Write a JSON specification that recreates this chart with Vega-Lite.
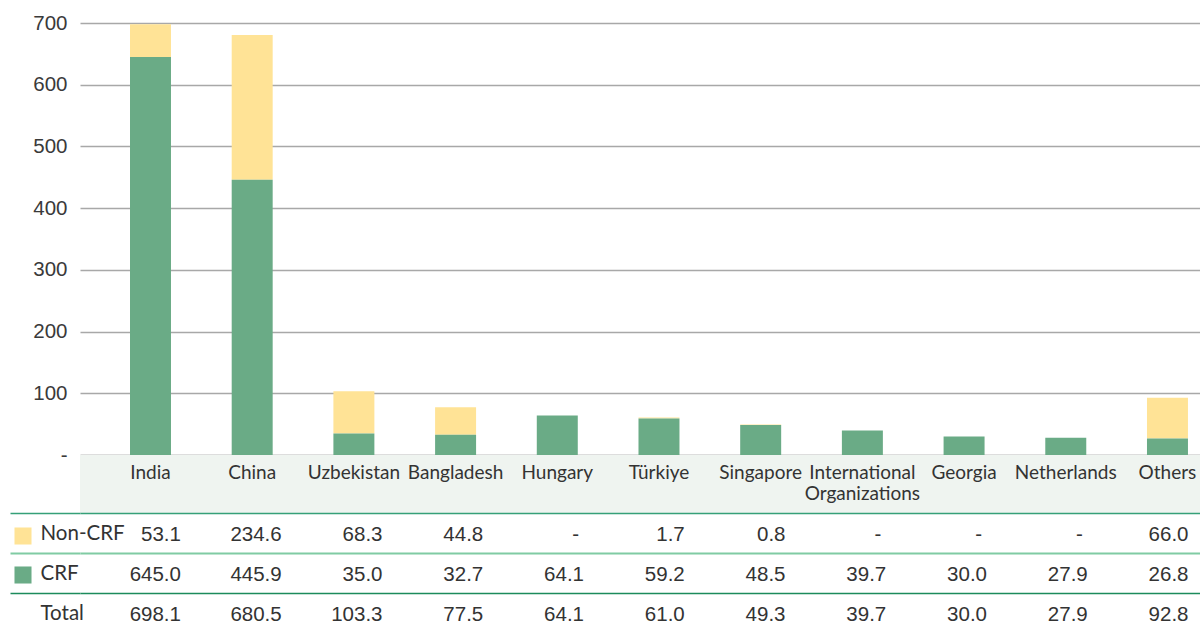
{
  "$schema": "https://vega.github.io/schema/vega-lite/v6.json",
  "padding": {"left": 0, "top": 13, "right": 0, "bottom": 0},
  "background": "white",
  "spacing": 0,
  "bounds": "flush",
  "config": {"view": {"stroke": null}, "font": "Lato", "concat": {"spacing": 0}},
  "resolve": {"scale": {"x": "independent", "y": "independent"}},
  "datasets": {
    "v": [
      {"country": "India", "type": "Non-CRF", "value": 53.1},
      {"country": "India", "type": "CRF", "value": 645.0},
      {"country": "India", "type": "Total", "value": 698.1},
      {"country": "China", "type": "Non-CRF", "value": 234.6},
      {"country": "China", "type": "CRF", "value": 445.9},
      {"country": "China", "type": "Total", "value": 680.5},
      {"country": "Uzbekistan", "type": "Non-CRF", "value": 68.3},
      {"country": "Uzbekistan", "type": "CRF", "value": 35.0},
      {"country": "Uzbekistan", "type": "Total", "value": 103.3},
      {"country": "Bangladesh", "type": "Non-CRF", "value": 44.8},
      {"country": "Bangladesh", "type": "CRF", "value": 32.7},
      {"country": "Bangladesh", "type": "Total", "value": 77.5},
      {"country": "Hungary", "type": "Non-CRF", "value": null},
      {"country": "Hungary", "type": "CRF", "value": 64.1},
      {"country": "Hungary", "type": "Total", "value": 64.1},
      {"country": "Türkiye", "type": "Non-CRF", "value": 1.7},
      {"country": "Türkiye", "type": "CRF", "value": 59.2},
      {"country": "Türkiye", "type": "Total", "value": 61.0},
      {"country": "Singapore", "type": "Non-CRF", "value": 0.8},
      {"country": "Singapore", "type": "CRF", "value": 48.5},
      {"country": "Singapore", "type": "Total", "value": 49.3},
      {"country": "International Organizations", "type": "Non-CRF", "value": null},
      {"country": "International Organizations", "type": "CRF", "value": 39.7},
      {"country": "International Organizations", "type": "Total", "value": 39.7},
      {"country": "Georgia", "type": "Non-CRF", "value": null},
      {"country": "Georgia", "type": "CRF", "value": 30.0},
      {"country": "Georgia", "type": "Total", "value": 30.0},
      {"country": "Netherlands", "type": "Non-CRF", "value": null},
      {"country": "Netherlands", "type": "CRF", "value": 27.9},
      {"country": "Netherlands", "type": "Total", "value": 27.9},
      {"country": "Others", "type": "Non-CRF", "value": 66.0},
      {"country": "Others", "type": "CRF", "value": 26.8},
      {"country": "Others", "type": "Total", "value": 92.8}
    ]
  },
  "vconcat": [
    {
      "width": 1120,
      "height": 432,
      "data": {"name": "v"},
      "transform": [{"filter": "datum.type !== 'Total' && isValid(datum.value)"}],
      "mark": {"type": "bar"},
      "encoding": {
        "x": {
          "field": "country", "type": "nominal", "axis": null,
          "scale": {
            "type": "band",
            "domain": ["India", "China", "Uzbekistan", "Bangladesh", "Hungary", "Türkiye", "Singapore", "International Organizations", "Georgia", "Netherlands", "Others"],
            "paddingInner": 0.597, "paddingOuter": 0.305, "align": 0.806
          }
        },
        "y": {
          "field": "value", "type": "quantitative", "stack": "zero",
          "scale": {"domain": [0, 700], "nice": false},
          "axis": {
            "title": null, "values": [0, 100, 200, 300, 400, 500, 600, 700],
            "domain": false, "ticks": false, "grid": true,
            "gridColor": {"condition": {"test": "datum.value === 0", "value": "#7a7a7a"}, "value": "#a8a8a8"},
            "gridWidth": 1.5,
            "labelExpr": "datum.value === 0 ? '-' : datum.label",
            "labelFont": "Liberation Sans", "labelFontSize": 20.5, "labelColor": "#3a3a3a",
            "labelPadding": 13, "minExtent": 80, "maxExtent": 80
          }
        },
        "color": {
          "field": "type", "type": "nominal",
          "scale": {"domain": ["Non-CRF", "CRF"], "range": ["#ffe396", "#6aab86"]},
          "legend": {
            "orient": "none", "legendX": -66, "legendY": 504, "title": null,
            "symbolType": "square", "symbolSize": 290, "symbolStrokeWidth": 0,
            "labelExpr": "''", "labelFontSize": 1, "rowPadding": 21, "padding": 0
          }
        },
        "order": {"field": "type", "sort": "ascending"}
      }
    },
    {
      "width": 1120,
      "height": 58,
      "view": {"fill": "#eff4f0", "stroke": null},
      "data": {"name": "v"},
      "transform": [{"filter": "datum.type === 'Total'"}],
      "mark": {"type": "text", "baseline": "top", "dy": -20, "lineBreak": " ", "lineHeight": 21, "font": "Lato", "fontSize": 19, "color": "#333333"},
      "encoding": {
        "x": {
          "field": "country", "type": "nominal", "axis": null,
          "scale": {
            "type": "band",
            "domain": ["India", "China", "Uzbekistan", "Bangladesh", "Hungary", "Türkiye", "Singapore", "International Organizations", "Georgia", "Netherlands", "Others"],
            "paddingInner": 0.597, "paddingOuter": 0.305, "align": 0.806
          }
        },
        "text": {"field": "country"}
      }
    },
    {
      "width": 1120,
      "height": 111,
      "data": {"name": "v"},
      "transform": [{"calculate": "isValid(datum.value) ? format(datum.value, '.1f') : '-'", "as": "label"}],
      "encoding": {
        "x": {
          "field": "country", "type": "nominal", "axis": null,
          "scale": {
            "type": "point",
            "domain": ["India", "China", "Uzbekistan", "Bangladesh", "Hungary", "Türkiye", "Singapore", "International Organizations", "Georgia", "Netherlands", "Others"],
            "padding": 0.558, "align": 0.898
          }
        },
        "y": {
          "field": "type", "type": "nominal",
          "scale": {"domain": ["Non-CRF", "CRF", "Total"], "range": [0, 120], "paddingInner": 0, "paddingOuter": 0},
          "axis": {
            "title": null, "domain": false, "ticks": true, "tickSize": 70, "grid": true,
            "tickBand": "extent",
            "tickColor": {"condition": [{"test": "datum.extra", "value": "#35a078"}, {"test": "datum.value === 'Non-CRF'", "value": "#80cba3"}], "value": "#1c8b5c"},
            "gridColor": {"condition": [{"test": "datum.extra", "value": "#35a078"}, {"test": "datum.value === 'Non-CRF'", "value": "#80cba3"}], "value": "#1c8b5c"},
            "tickWidth": {"condition": [{"test": "datum.extra", "value": 1.5}, {"test": "datum.value === 'Non-CRF'", "value": 2}], "value": 1.5},
            "gridWidth": {"condition": [{"test": "datum.extra", "value": 1.5}, {"test": "datum.value === 'Non-CRF'", "value": 2}], "value": 1.5},
            "labelAlign": "left", "labelBaseline": "middle", "labelPadding": -30,
            "labelFont": "Lato", "labelFontSize": 20.5, "labelColor": "#333333",
            "minExtent": 80, "maxExtent": 80
          }
        },
        "text": {"field": "label"}
      },
      "layer": [
        {
          "transform": [{"filter": "isValid(datum.value)"}],
          "mark": {"type": "text", "align": "right", "baseline": "middle", "dy": 2, "font": "Liberation Sans", "fontSize": 20.5, "color": "#333333"}
        },
        {
          "transform": [{"filter": "!isValid(datum.value)"}],
          "mark": {"type": "text", "align": "right", "baseline": "middle", "dy": 2, "dx": -5, "font": "Liberation Sans", "fontSize": 20.5, "color": "#333333"}
        }
      ]
    }
  ]
}
